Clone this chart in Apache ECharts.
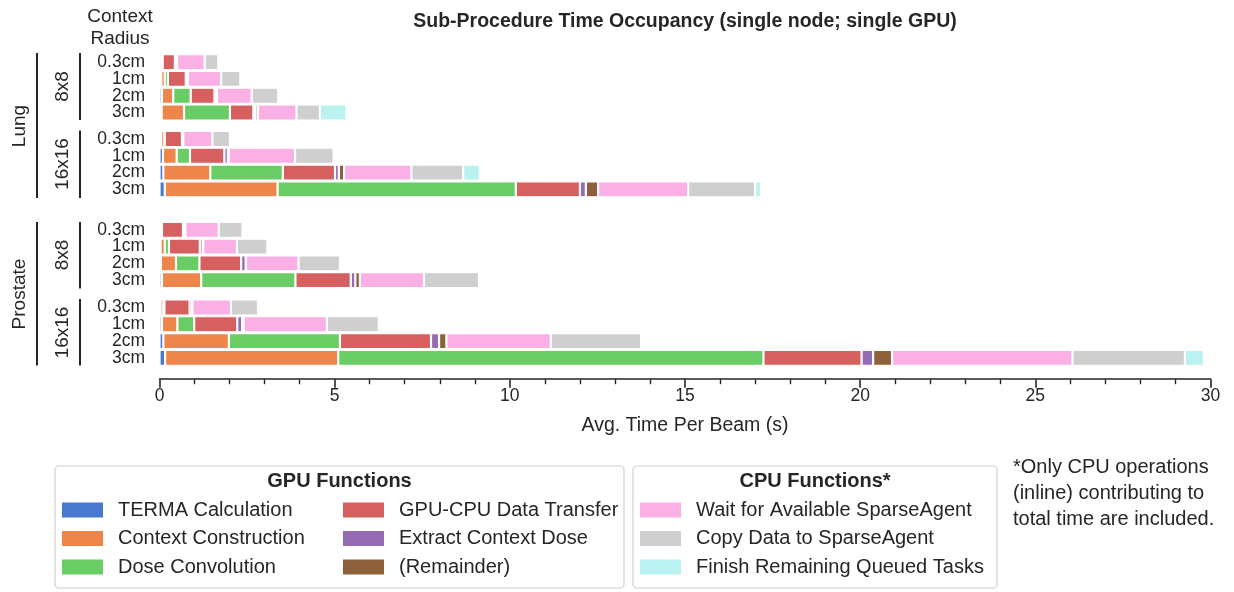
<!DOCTYPE html>
<html>
<head>
<meta charset="utf-8">
<script src="https://cdn.jsdelivr.net/npm/echarts@6/dist/echarts.min.js"></script>
<style>
html,body{margin:0;padding:0;background:#fff;}
#chart{width:1234px;height:592px;}
</style>
</head>
<body>
<div id="chart"></div>
<script>
// ---------- data ----------
const radiusLabels = ['0.3cm', '1cm', '2cm', '3cm'];
const siteLabels = ['Lung', 'Prostate'];
const gridSizeLabels = ['8x8', '16x16'];
// Each series: 16 values, ordered Lung 8x8 [0.3,1,2,3], Lung 16x16, Prostate 8x8, Prostate 16x16
const termaCalculation     = [0.02, 0.05, 0.07, 0.06,  0.05, 0.10, 0.11, 0.15,  0.02, 0.03, 0.04, 0.07,  0.03, 0.07, 0.11, 0.16];
const contextConstruction  = [0.04, 0.10, 0.32, 0.64,  0.09, 0.39, 1.34, 3.22,  0.03, 0.12, 0.43, 1.12,  0.08, 0.44, 1.87, 4.94];
const doseConvolution      = [0.03, 0.09, 0.50, 1.31,  0.01, 0.38, 2.07, 6.80,  0.02, 0.12, 0.67, 2.69,  0.03, 0.48, 3.17, 12.14];
const gpuCpuDataTransfer   = [0.35, 0.51, 0.68, 0.67,  0.49, 0.98, 1.49, 1.83,  0.60, 0.88, 1.19, 1.58,  0.72, 1.23, 2.60, 2.80];
const extractContextDose   = [0.04, 0.04, 0.04, 0.06,  0.03, 0.10, 0.11, 0.17,  0.06, 0.08, 0.13, 0.13,  0.07, 0.14, 0.23, 0.33];
const remainder            = [0.02, 0.02, 0.03, 0.07,  0.01, 0.03, 0.15, 0.35,  0.01, 0.02, 0.01, 0.13,  0.01, 0.04, 0.21, 0.54];
const waitSparseAgent      = [0.79, 0.95, 0.99, 1.10,  0.83, 1.89, 1.92, 2.57,  0.95, 0.96, 1.50, 1.83,  1.10, 2.38, 2.98, 5.15];
const copySparseAgent      = [0.39, 0.55, 0.76, 0.67,  0.50, 1.10, 1.48, 1.91,  0.68, 0.87, 1.18, 1.57,  0.77, 1.48, 2.58, 3.21];
const finishQueuedTasks    = [0.00, 0.00, 0.00, 0.76,  0.00, 0.00, 0.47, 0.17,  0.00, 0.00, 0.00, 0.00,  0.00, 0.07, 0.00, 0.54];

const gpuNames = ['TERMA Calculation', 'Context Construction', 'Dose Convolution',
                  'GPU-CPU Data Transfer', 'Extract Context Dose', '(Remainder)'];
const cpuNames = ['Wait for Available SparseAgent', 'Copy Data to SparseAgent', 'Finish Remaining Queued Tasks'];
const xTicks = [0, 5, 10, 15, 20, 25, 30];

// ---------- styling ----------
const seriesValues = [termaCalculation, contextConstruction, doseConvolution, gpuCpuDataTransfer,
                      extractContextDose, remainder, waitSparseAgent, copySparseAgent, finishQueuedTasks];
const seriesNames = gpuNames.concat(cpuNames);
const colors = ['#4878d0', '#ee854a', '#6acc64', '#d65f5f', '#956cb4', '#8c613c',
                '#fab0e4', '#cfcfcf', '#b9f2f0'];
const FONT = '"Liberation Sans", Arial, Helvetica, sans-serif';
const INK = '#262626';
const gridTops = [53.8, 130.6, 221.4, 299.1];
const gridH = 67.1;

const grids = gridTops.map(t => ({ left: 159.5, right: 23.5, top: t, height: gridH }));
const xAxes = gridTops.map((t, i) => ({
  type: 'value', gridIndex: i, min: xTicks[0], max: xTicks[xTicks.length - 1], interval: 5,
  show: i === 3, offset: 13,
  name: i === 3 ? 'Avg. Time Per Beam (s)' : '',
  nameLocation: 'middle', nameGap: 36,
  nameTextStyle: { fontFamily: FONT, fontSize: 19.5, color: INK },
  axisLine: { show: true, lineStyle: { color: INK, width: 1.6 } },
  axisTick: { show: true, length: 8.5, lineStyle: { color: INK, width: 1.6 } },
  minorTick: { show: true, splitNumber: 5, length: 5, lineStyle: { color: INK, width: 1.4 } },
  axisLabel: { fontFamily: FONT, fontSize: 17.5, color: INK, margin: 8 },
  splitLine: { show: false }
}));
const yAxes = gridTops.map((t, i) => ({
  type: 'category', gridIndex: i, data: radiusLabels, inverse: true,
  axisLine: { show: false }, axisTick: { show: false }, splitLine: { show: false },
  axisLabel: { interval: 0, fontFamily: FONT, fontSize: 17.5, color: INK, margin: 14.5 }
}));

const series = [];
seriesValues.forEach((vals, s) => {
  for (let g = 0; g < 4; g++) {
    series.push({
      type: 'bar', name: seriesNames[s], xAxisIndex: g, yAxisIndex: g, stack: 'grp' + g,
      data: vals.slice(g * 4, g * 4 + 4), barWidth: 16,
      itemStyle: { color: colors[s], borderColor: '#ffffff', borderWidth: 1.1 },
      emphasis: { disabled: true }, animation: false
    });
  }
});

function legendAt(left, names) {
  return {
    orient: 'vertical', left: left, top: 500, height: 100, padding: 0, data: names,
    icon: 'rect', itemWidth: 41, itemHeight: 15, itemGap: 8.5,
    itemStyle: { borderWidth: 0 },
    textStyle: { fontFamily: FONT, fontSize: 20, color: INK, lineHeight: 20, padding: [0, 0, 0, 10] },
    selectedMode: false
  };
}

// bracket annotations (layout only)
const graphics = [];
function vline(x, y1, y2) {
  graphics.push({ type: 'line', shape: { x1: x, y1: y1, x2: x, y2: y2 },
    style: { stroke: INK, lineWidth: 2 }, silent: true });
}
function vtext(x, y, t) {
  graphics.push({ type: 'text', x: x, y: y, rotation: Math.PI / 2,
    style: { text: t, font: '19px ' + FONT, fill: INK, align: 'center', verticalAlign: 'middle' }, silent: true });
}
vline(37, 53, 198); vtext(20, 126, siteLabels[0]);
vline(37, 222, 365.5); vtext(20, 294, siteLabels[1]);
vline(80, 53, 120); vtext(63, 86.5, gridSizeLabels[0]);
vline(80, 130.5, 198); vtext(63, 164, gridSizeLabels[1]);
vline(80, 222, 288.5); vtext(63, 255, gridSizeLabels[0]);
vline(80, 299, 365.5); vtext(63, 332.5, gridSizeLabels[1]);
graphics.push({ type: 'text', x: 120, y: 27.5,
  style: { text: 'Context\nRadius', font: '19px ' + FONT, lineHeight: 22, fill: INK, align: 'center', verticalAlign: 'middle' } });
graphics.push({ type: 'text', x: 685, y: 21.5,
  style: { text: 'Sub-Procedure Time Occupancy (single node; single GPU)', font: 'bold 19.5px ' + FONT, fill: INK, align: 'center', verticalAlign: 'middle' } });
graphics.push({ type: 'rect', shape: { x: 55, y: 466, width: 569, height: 122, r: 4 },
  style: { fill: 'none', stroke: '#d0d0d0', lineWidth: 1.2 }, z: -1 });
graphics.push({ type: 'rect', shape: { x: 633, y: 466, width: 364, height: 122, r: 4 },
  style: { fill: 'none', stroke: '#d0d0d0', lineWidth: 1.2 }, z: -1 });
graphics.push({ type: 'text', x: 339.5, y: 481.5,
  style: { text: 'GPU Functions', font: 'bold 20px ' + FONT, fill: INK, align: 'center', verticalAlign: 'middle' } });
graphics.push({ type: 'text', x: 815, y: 481.5,
  style: { text: 'CPU Functions*', font: 'bold 20px ' + FONT, fill: INK, align: 'center', verticalAlign: 'middle' } });
graphics.push({ type: 'text', x: 1013, y: 454,
  style: { text: '*Only CPU operations\n(inline) contributing to\ntotal time are included.', font: '20px ' + FONT,
           lineHeight: 26, fill: INK, align: 'left', verticalAlign: 'top' } });

const chart = echarts.init(document.getElementById('chart'), null, { renderer: 'canvas' });
chart.setOption({
  animation: false,
  backgroundColor: '#ffffff',
  grid: grids,
  xAxis: xAxes,
  yAxis: yAxes,
  legend: [legendAt(62, gpuNames.slice(0, 3)), legendAt(343, gpuNames.slice(3, 6)), legendAt(640, cpuNames)],
  series: series,
  graphic: graphics
});
</script>
</body>
</html>
